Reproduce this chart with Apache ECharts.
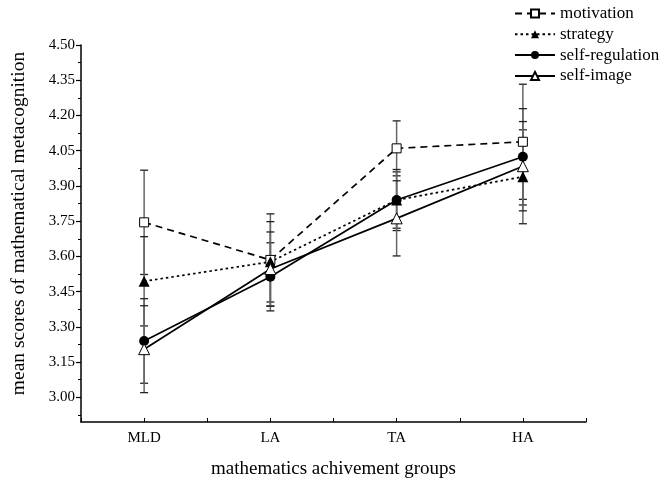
<!DOCTYPE html>
<html>
<head>
<meta charset="utf-8">
<script src="https://cdn.jsdelivr.net/npm/echarts@6/dist/echarts.min.js"></script>
<style>html,body{margin:0;padding:0;background:#fff}#c{width:666px;height:485px}</style>
</head>
<body>
<div id="c"></div>
<script>
const categories = ['MLD', 'LA', 'TA', 'HA'];
const yTickValues = [3.00, 3.15, 3.30, 3.45, 3.60, 3.75, 3.90, 4.05, 4.20, 4.35, 4.50];
const yMinorValues = [2.925, 3.075, 3.225, 3.375, 3.525, 3.675, 3.825, 3.975, 4.125, 4.275, 4.425];

const motivation = [3.745, 3.585, 4.060, 4.088];
const strategy = [3.494, 3.577, 3.840, 3.939];
const selfRegulation = [3.240, 3.513, 3.840, 4.024];
const selfImage = [3.205, 3.546, 3.762, 3.984];

const motivationErr = [0.222, 0.196, 0.117, 0.245];
const strategyErr = [0.190, 0.171, 0.120, 0.200];
const selfRegulationErr = [0.180, 0.145, 0.130, 0.205];
const selfImageErr = [0.185, 0.158, 0.160, 0.190];

const FONT = '"Liberation Serif", "Times New Roman", serif';

function errData(mean, err) {
  return mean.map((m, i) => [i, m - err[i], m + err[i]]);
}
function errSeries(name, mean, err) {
  return {
    type: 'custom',
    name: name + '-err',
    xAxisIndex: 0, yAxisIndex: 0,
    z: 1,
    silent: true,
    data: errData(mean, err),
    encode: { x: 0, y: [1, 2] },
    renderItem: function (params, api) {
      const x = api.value(0);
      const top = api.coord([x, api.value(2)]);
      const bot = api.coord([x, api.value(1)]);
      const w = 4;
      return {
        type: 'group',
        children: [
          { type: 'line', shape: { x1: top[0], y1: top[1], x2: bot[0], y2: bot[1] }, style: { stroke: '#666', lineWidth: 1.5 } },
          { type: 'line', shape: { x1: top[0] - w, y1: top[1], x2: top[0] + w, y2: top[1] }, style: { stroke: '#222', lineWidth: 1.3 } },
          { type: 'line', shape: { x1: bot[0] - w, y1: bot[1], x2: bot[0] + w, y2: bot[1] }, style: { stroke: '#222', lineWidth: 1.3 } }
        ]
      };
    }
  };
}

const chart = echarts.init(document.getElementById('c'), null, { renderer: 'canvas' });
const yMin = 2.895, yMax = 4.5;

chart.setOption({
  animation: false,
  backgroundColor: '#fff',
  textStyle: { fontFamily: FONT, color: '#000' },
  grid: { left: 81, right: 80, top: 45, bottom: 63, containLabel: false },
  legend: {
    orient: 'vertical',
    left: 509, top: 0,
    itemWidth: 40, itemHeight: 10, itemGap: 3.8,
    textStyle: { fontFamily: FONT, fontSize: 17, color: '#000' },
    data: ['motivation', 'strategy', 'self-regulation', 'self-image']
  },
  xAxis: [{
    type: 'category',
    data: categories,
    boundaryGap: true,
    axisLine: { lineStyle: { color: '#000', width: 1.5 } },
    axisTick: { show: true, inside: true, length: 4, lineStyle: { color: '#000' } },
    axisLabel: { fontFamily: FONT, fontSize: 15, color: '#000', margin: 9 },
    splitLine: { show: false },
    name: 'mathematics achivement groups',
    nameLocation: 'middle',
    nameGap: 38,
    nameTextStyle: { fontFamily: FONT, fontSize: 19, color: '#000' }
  }, {
    type: 'category',
    data: categories,
    boundaryGap: true,
    position: 'bottom',
    axisLine: { show: false },
    axisTick: { show: true, inside: true, alignWithLabel: true, length: 4, lineStyle: { color: '#000' } },
    axisLabel: { show: false },
    splitLine: { show: false }
  }],
  yAxis: [{
    type: 'value',
    min: yMin, max: yMax,
    axisLine: { show: true, lineStyle: { color: '#000', width: 1.5 } },
    axisTick: { show: true, length: 5, customValues: yTickValues, lineStyle: { color: '#000', width: 1.2 } },
    axisLabel: { fontFamily: FONT, fontSize: 15, color: '#000', margin: 6, customValues: yTickValues, formatter: v => v.toFixed(2) },
    splitLine: { show: false },
    name: 'mean scores of mathematical metacognition',
    nameLocation: 'middle',
    nameGap: 52,
    nameTextStyle: { fontFamily: FONT, fontSize: 19.5, color: '#000', padding: [0, 0, 0, 20] }
  }, {
    type: 'value',
    min: yMin, max: yMax,
    position: 'left',
    axisLine: { show: false },
    axisTick: { show: true, length: 3, customValues: yMinorValues, lineStyle: { color: '#000', width: 1 } },
    axisLabel: { show: false, customValues: yMinorValues },
    splitLine: { show: false }
  }],
  series: [
    errSeries('motivation', motivation, motivationErr),
    errSeries('strategy', strategy, strategyErr),
    errSeries('self-regulation', selfRegulation, selfRegulationErr),
    errSeries('self-image', selfImage, selfImageErr),
    {
      name: 'motivation', type: 'line', data: motivation, z: 3,
      symbol: 'rect', symbolSize: 9, showAllSymbol: true,
      lineStyle: { color: '#000', width: 1.7, type: [7, 5] },
      itemStyle: { color: '#fff', borderColor: '#000', borderWidth: 1 }
    },
    {
      name: 'strategy', type: 'line', data: strategy, z: 3,
      symbol: 'triangle', symbolSize: 11,
      lineStyle: { color: '#000', width: 1.7, type: [2.5, 3] },
      itemStyle: { color: '#000', borderColor: '#000', borderWidth: 0 }
    },
    {
      name: 'self-regulation', type: 'line', data: selfRegulation, z: 3,
      symbol: 'circle', symbolSize: 10,
      lineStyle: { color: '#000', width: 1.7, type: 'solid' },
      itemStyle: { color: '#000', borderColor: '#000', borderWidth: 0 }
    },
    {
      name: 'self-image', type: 'line', data: selfImage, z: 3,
      symbol: 'triangle', symbolSize: 11,
      lineStyle: { color: '#000', width: 1.7, type: 'solid' },
      itemStyle: { color: '#fff', borderColor: '#000', borderWidth: 1 }
    }
  ]
});
</script>
</body>
</html>
